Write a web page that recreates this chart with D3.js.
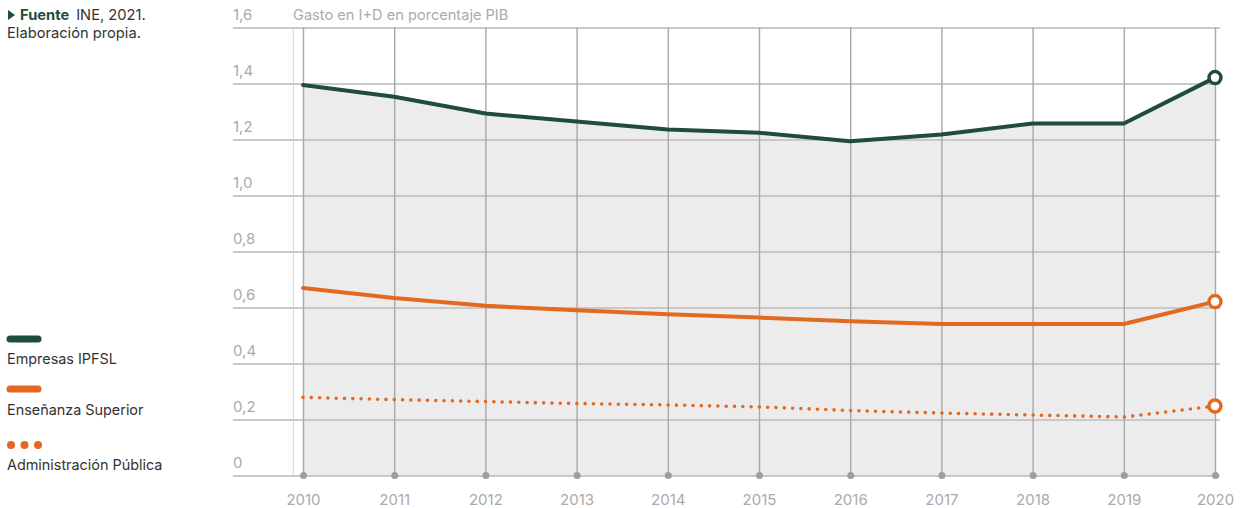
<!DOCTYPE html>
<html><head><meta charset="utf-8">
<script src="https://cdn.jsdelivr.net/npm/d3@7"></script>
<style>
body{margin:0;background:#fff;font-family:Inter,"Noto Sans",sans-serif;}
svg{display:block}
</style></head>
<body>
<svg id="c" width="1243" height="508"></svg>
<script>
const years = [2010,2011,2012,2013,2014,2015,2016,2017,2018,2019,2020];
const empresas = [1.395,1.353,1.293,1.264,1.236,1.224,1.194,1.218,1.257,1.257,1.421];
const ensenanza = [0.670,0.634,0.606,0.590,0.576,0.564,0.551,0.541,0.541,0.541,0.621];
const administracion = [0.279,0.271,0.264,0.257,0.252,0.245,0.232,0.223,0.216,0.209,0.248];
const yTicks = [0,0.2,0.4,0.6,0.8,1.0,1.2,1.4,1.6];
const seriesNames = ["Empresas IPFSL","Enseñanza Superior","Administración Pública"];
const green = "#1f4d3b", orange = "#e2691f";

const svg = d3.select("#c");
const x = d3.scalePoint().domain(years).range([303,1215]);
const y = d3.scaleLinear().domain([0,1.6]).range([475.5,27.5]);
const fmt = d => d===0 ? "0" : d3.format(".1f")(d).replace(".",",");

// area
const area = d3.area().x((d,i)=>x(years[i])).y0(y(0)).y1(d=>y(d));
svg.append("path").datum(empresas).attr("d",area).attr("fill","#ececec");

// light left line
svg.append("line").attr("x1",293.5).attr("x2",293.5).attr("y1",y(1.6)).attr("y2",y(0))
  .attr("stroke","#dcdcdc").attr("stroke-width",1.2);

// horizontal grid
const yAxis = d3.axisLeft(y).tickValues(yTicks).tickSize(0).tickFormat(fmt);
const gy = svg.append("g").attr("transform","translate(233,0)").call(yAxis);
gy.select(".domain").remove();
gy.selectAll(".tick line").attr("x2",987).attr("stroke","#c9c9c9").attr("stroke-width",2);
gy.selectAll(".tick text").attr("x",0).attr("dy",-8).attr("text-anchor","start")
  .attr("fill","#aaaaaa").style("font-size","15px").style("font-family","Inter");

// vertical grid
const xAxis = d3.axisBottom(x).tickSize(0).tickFormat(d=>d);
const gx = svg.append("g").attr("transform",`translate(0,${y(0)})`).call(xAxis);
gx.select(".domain").remove();
gx.selectAll(".tick line").attr("y1",0).attr("y2",y(1.6)-y(0)).attr("stroke","#a8a8a8").attr("stroke-width",1.4);
gx.selectAll(".tick text").attr("y",29).attr("dy",0)
  .attr("fill","#aaaaaa").style("font-size","15px").style("font-family","Inter");
gx.selectAll(".tick").append("circle").attr("r",3.5).attr("fill","#9e9e9e");

// title
svg.append("text").attr("x",293).attr("y",20).text("Gasto en I+D en porcentaje PIB")
  .attr("fill","#aaaaaa").style("font-size","14.6px");

// lines
const line = d3.line().x((d,i)=>x(years[i])).y(d=>y(d));
svg.append("path").datum(empresas).attr("d",line).attr("fill","none").attr("stroke",green).attr("stroke-width",4).attr("stroke-linecap","round").attr("stroke-linejoin","round");
svg.append("path").datum(ensenanza).attr("d",line).attr("fill","none").attr("stroke",orange).attr("stroke-width",4).attr("stroke-linecap","round").attr("stroke-linejoin","round");
svg.append("path").datum(administracion).attr("d",line).attr("fill","none").attr("stroke",orange).attr("stroke-width",3.6)
  .attr("stroke-linecap","round").attr("stroke-dasharray","0 8.3");

// end markers
[[empresas,green],[ensenanza,orange],[administracion,orange]].forEach(([s,c])=>{
  svg.append("circle").attr("cx",x(years[years.length-1])).attr("cy",y(s[s.length-1]))
    .attr("r",6).attr("fill","#fff").attr("stroke",c).attr("stroke-width",3.5);
});

// source
svg.append("path").attr("d","M8,10 L15,15 L8,20 Z").attr("fill",green);
const src = svg.append("text").attr("x",20).attr("y",20).style("font-size","14.7px").attr("fill","#333");
src.append("tspan").text("Fuente").attr("font-weight","bold").attr("fill",green);
src.append("tspan").text("INE, 2021.").attr("dx",7);
svg.append("text").attr("x",7).attr("y",38).text("Elaboración propia.").style("font-size","14.7px").attr("fill","#333");

// legend
const lg = svg.append("g");
const lfs = "14.4px";
lg.append("line").attr("x1",10).attr("x2",38).attr("y1",339).attr("y2",339).attr("stroke",green).attr("stroke-width",7).attr("stroke-linecap","round");
lg.append("text").attr("x",7).attr("y",364).text(seriesNames[0]).style("font-size",lfs).attr("fill","#333");
lg.append("line").attr("x1",10).attr("x2",38).attr("y1",389).attr("y2",389).attr("stroke",orange).attr("stroke-width",7).attr("stroke-linecap","round");
lg.append("text").attr("x",7).attr("y",415).text(seriesNames[1]).style("font-size",lfs).attr("fill","#333");
[11,24.5,38].forEach(cx=>lg.append("circle").attr("cx",cx).attr("cy",445).attr("r",4).attr("fill",orange));
lg.append("text").attr("x",7).attr("y",470).text(seriesNames[2]).style("font-size",lfs).attr("fill","#333");
</script>
</body></html>
